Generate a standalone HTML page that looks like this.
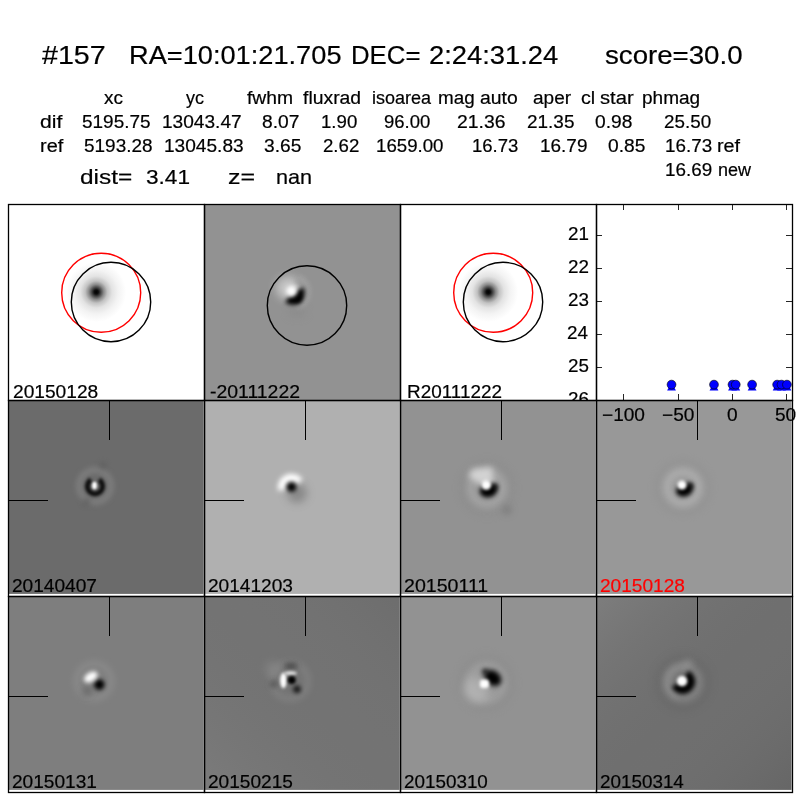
<!DOCTYPE html>
<html><head><meta charset="utf-8"><title>candidate 157</title>
<style>
html,body{margin:0;padding:0;background:#fff;}
body{width:800px;height:800px;position:relative;overflow:hidden;font-family:"Liberation Sans",sans-serif;}
#fig{position:absolute;left:0;top:0;width:800px;height:800px;}
.t{position:absolute;white-space:pre;line-height:normal;transform-origin:0 0;color:#000;will-change:transform;-webkit-text-stroke:0.2px currentColor;}
#clip26{position:absolute;left:540px;top:380px;width:60px;height:20px;overflow:hidden;}
</style></head><body>

<svg id="fig" width="800" height="800" viewBox="0 0 800 800">
<defs>
<filter id="b1" x="-100%" y="-100%" width="300%" height="300%"><feGaussianBlur stdDeviation="1"/></filter>
<filter id="b12" x="-100%" y="-100%" width="300%" height="300%"><feGaussianBlur stdDeviation="1.2"/></filter>
<filter id="b15" x="-100%" y="-100%" width="300%" height="300%"><feGaussianBlur stdDeviation="1.5"/></filter>
<filter id="b18" x="-100%" y="-100%" width="300%" height="300%"><feGaussianBlur stdDeviation="1.8"/></filter>
<filter id="b2" x="-100%" y="-100%" width="300%" height="300%"><feGaussianBlur stdDeviation="2"/></filter>
<filter id="b25" x="-100%" y="-100%" width="300%" height="300%"><feGaussianBlur stdDeviation="2.5"/></filter>
<filter id="b3" x="-100%" y="-100%" width="300%" height="300%"><feGaussianBlur stdDeviation="3"/></filter>
<filter id="b4" x="-100%" y="-100%" width="300%" height="300%"><feGaussianBlur stdDeviation="4"/></filter>
<filter id="b5" x="-100%" y="-100%" width="300%" height="300%"><feGaussianBlur stdDeviation="5"/></filter>
<radialGradient id="star" cx="0.5" cy="0.5" r="0.5"><stop offset="0" stop-color="#000"/><stop offset="0.07" stop-color="#0e0e0e"/><stop offset="0.15" stop-color="#464646"/><stop offset="0.25" stop-color="#8a8a8a"/><stop offset="0.37" stop-color="#c2c2c2"/><stop offset="0.53" stop-color="#e3e3e3"/><stop offset="0.73" stop-color="#f3f3f3"/><stop offset="1" stop-color="#fff"/></radialGradient>
<clipPath id="c00"><rect x="8" y="204" width="196" height="196"/></clipPath>
<clipPath id="c01"><rect x="204" y="204" width="196" height="196"/></clipPath>
<clipPath id="c02"><rect x="400" y="204" width="196" height="196"/></clipPath>
<clipPath id="c03"><rect x="596" y="204" width="196" height="196"/></clipPath>
<clipPath id="c10"><rect x="8" y="400" width="196" height="196"/></clipPath>
<clipPath id="c11"><rect x="204" y="400" width="196" height="196"/></clipPath>
<clipPath id="c12"><rect x="400" y="400" width="196" height="196"/></clipPath>
<clipPath id="c13"><rect x="596" y="400" width="196" height="196"/></clipPath>
<clipPath id="c20"><rect x="8" y="596" width="196" height="196"/></clipPath>
<clipPath id="c21"><rect x="204" y="596" width="196" height="196"/></clipPath>
<clipPath id="c22"><rect x="400" y="596" width="196" height="196"/></clipPath>
<clipPath id="c23"><rect x="596" y="596" width="196" height="196"/></clipPath>
<linearGradient id="gA" x1="0" y1="0" x2="1" y2="1"><stop offset="0" stop-color="#fff" stop-opacity=".1"/><stop offset=".5" stop-color="#888" stop-opacity="0"/><stop offset="1" stop-color="#000" stop-opacity=".08"/></linearGradient>
<linearGradient id="gB" x1="1" y1="0" x2="0" y2="1"><stop offset="0" stop-color="#000" stop-opacity=".05"/><stop offset=".5" stop-color="#888" stop-opacity="0"/><stop offset="1" stop-color="#fff" stop-opacity=".06"/></linearGradient>
</defs>
<rect x="204" y="204" width="196" height="196" fill="#929292"/>
<rect x="8.5" y="400.5" width="195" height="193.4" fill="#6b6b6b"/>
<rect x="204.5" y="400.5" width="195" height="193.4" fill="#b0b0b0"/>
<rect x="400.5" y="400.5" width="195" height="193.4" fill="#929292"/>
<rect x="596.5" y="400.5" width="195" height="193.4" fill="#989898"/>
<rect x="8.5" y="596.5" width="195" height="193.4" fill="#7e7e7e"/>
<rect x="204.5" y="596.5" width="195" height="193.4" fill="#737373"/>
<rect x="400.5" y="596.5" width="195" height="193.4" fill="#929292"/>
<rect x="596.5" y="596.5" width="195" height="193.4" fill="#6f6f6f"/>
<rect x="596.5" y="596.5" width="195" height="193.4" fill="url(#gA)"/>
<rect x="204.5" y="596.5" width="195" height="193.4" fill="url(#gB)"/>
<g clip-path="url(#c00)"><circle cx="96.25" cy="292" r="30" fill="url(#star)"/><circle cx="101.2" cy="292.75" r="39.5" fill="none" stroke="#f00" stroke-width="1.4"/><circle cx="111" cy="302" r="39.7" fill="none" stroke="#000" stroke-width="1.4"/></g>
<g clip-path="url(#c02)"><circle cx="488.25" cy="292" r="30" fill="url(#star)"/><circle cx="493.2" cy="292.75" r="39.5" fill="none" stroke="#f00" stroke-width="1.4"/><circle cx="503" cy="302" r="39.7" fill="none" stroke="#000" stroke-width="1.4"/></g>
<g clip-path="url(#c01)"><ellipse cx="288.5" cy="288" rx="12.5" ry="11.5" fill="#dcdcdc" opacity=".7" filter="url(#b4)"/><path d="M299.06 277.50A16 16 0 0 1 296.44 307.45" fill="none" stroke="#a8a8a8" stroke-width="5" opacity=".6" filter="url(#b25)"/><path d="M295.28 280.89A11.5 11.5 0 0 1 301.11 299.39" fill="none" stroke="#7c7c7c" stroke-width="3" opacity=".5" filter="url(#b2)"/><ellipse cx="297" cy="312" rx="9" ry="5" fill="#848484" opacity=".5" filter="url(#b4)"/><path d="M299.57 289.40A7.8 7.8 0 0 1 287.70 298.85" fill="none" stroke="#000" stroke-width="8.5" filter="url(#b2)"/><circle cx="297.5" cy="298.5" r="4.2" fill="#000" filter="url(#b2)"/><circle cx="291.5" cy="291" r="5.2" fill="#fff" filter="url(#b2)"/><circle cx="307" cy="305.5" r="39.7" fill="none" stroke="#000" stroke-width="1.4"/></g>
<g clip-path="url(#c10)"><circle cx="95" cy="486" r="16" fill="none" stroke="#8c8c8c" stroke-width="6" opacity=".55" filter="url(#b25)"/><circle cx="86.5" cy="502" r="4" fill="#555" opacity=".5" filter="url(#b25)"/><circle cx="103" cy="465.5" r="4" fill="#585858" opacity=".45" filter="url(#b25)"/><path d="M99.03 479.85A7.6 7.6 0 1 1 90.97 479.85" fill="none" stroke="#000" stroke-width="4.8" opacity=".88" filter="url(#b18)"/><ellipse cx="94.5" cy="485.5" rx="2.4" ry="3.8" fill="#fff" filter="url(#b12)"/></g>
<g clip-path="url(#c11)"><circle cx="297" cy="493" r="10" fill="#606060" opacity=".5" filter="url(#b4)"/><path d="M282.03 490.04A9.8 9.8 0 0 1 299.53 481.88" fill="none" stroke="#fff" stroke-width="8" filter="url(#b25)"/><circle cx="291.5" cy="487" r="4.8" fill="#000" filter="url(#b2)"/></g>
<g clip-path="url(#c12)"><circle cx="487" cy="488" r="16.5" fill="none" stroke="#b0b0b0" stroke-width="9" opacity=".55" filter="url(#b3)"/><circle cx="487" cy="488" r="25" fill="none" stroke="#868686" stroke-width="5" opacity=".45" filter="url(#b4)"/><polygon points="482,486 468,476 472,469 492,467 494,484" fill="#e0e0e0" opacity=".8" filter="url(#b3)"/><circle cx="507" cy="510" r="5" fill="#707070" opacity=".5" filter="url(#b3)"/><ellipse cx="488.5" cy="490.5" rx="8.8" ry="6.8" transform="rotate(-15 488.3 490.3)" fill="#000" filter="url(#b2)"/><circle cx="495" cy="486.5" r="3" fill="#000" opacity=".8" filter="url(#b2)"/><circle cx="486.3" cy="485" r="4.8" fill="#fff" filter="url(#b18)"/></g>
<g clip-path="url(#c13)"><circle cx="683" cy="487.5" r="16" fill="none" stroke="#b8b8b8" stroke-width="9" opacity=".6" filter="url(#b3)"/><circle cx="683" cy="487.5" r="25" fill="none" stroke="#888" stroke-width="5" opacity=".4" filter="url(#b4)"/><ellipse cx="684.5" cy="490" rx="8.6" ry="6.5" transform="rotate(-20 684.3 489.8)" fill="#000" filter="url(#b2)"/><circle cx="690.5" cy="485.5" r="3" fill="#000" opacity=".8" filter="url(#b2)"/><circle cx="682" cy="485" r="4.6" fill="#fff" filter="url(#b18)"/></g>
<g clip-path="url(#c20)"><circle cx="94" cy="681" r="17.5" fill="none" stroke="#969696" stroke-width="6" opacity=".5" filter="url(#b3)"/><circle cx="87" cy="691.5" r="4.5" fill="#555" opacity=".55" filter="url(#b3)"/><circle cx="99.3" cy="684.5" r="5.2" fill="#000" filter="url(#b2)"/><ellipse cx="90.8" cy="677" rx="7.5" ry="4.6" transform="rotate(-32 90.8 677)" fill="#fff" filter="url(#b2)"/></g>
<g clip-path="url(#c21)"><circle cx="290" cy="681" r="18" fill="none" stroke="#8c8c8c" stroke-width="6" opacity=".5" filter="url(#b3)"/><circle cx="273" cy="669" r="8" fill="#909090" opacity=".5" filter="url(#b4)"/><ellipse cx="291" cy="666" rx="7" ry="3.5" fill="#3c3c3c" opacity=".7" filter="url(#b25)"/><circle cx="273.5" cy="684" r="4" fill="#484848" opacity=".6" filter="url(#b25)"/><ellipse cx="283.4" cy="680.5" rx="3.3" ry="7.8" fill="#fff" filter="url(#b18)"/><ellipse cx="290.5" cy="673.2" rx="6.5" ry="2.2" fill="#e8e8e8" opacity=".9" filter="url(#b15)"/><circle cx="291.7" cy="680" r="4" fill="#000" filter="url(#b18)"/><circle cx="297" cy="689.3" r="3.8" fill="#000" opacity=".8" filter="url(#b2)"/></g>
<g clip-path="url(#c22)"><circle cx="486" cy="683" r="17" fill="none" stroke="#ababab" stroke-width="8" opacity=".5" filter="url(#b3)"/><circle cx="486" cy="683" r="26" fill="none" stroke="#868686" stroke-width="5" opacity=".4" filter="url(#b4)"/><circle cx="477" cy="689.5" r="13" fill="#c0c0c0" opacity=".6" filter="url(#b4)"/><ellipse cx="492.8" cy="677.8" rx="9.2" ry="7" transform="rotate(40 492.5 678)" fill="#000" filter="url(#b25)"/><circle cx="485" cy="671.5" r="3" fill="#000" opacity=".7" filter="url(#b2)"/><rect x="480" y="679.5" width="9" height="8.5" rx="3" fill="#fff" filter="url(#b18)"/></g>
<g clip-path="url(#c23)"><circle cx="683" cy="682.5" r="16.5" fill="none" stroke="#909090" stroke-width="8" opacity=".55" filter="url(#b3)"/><circle cx="683" cy="682.5" r="25" fill="none" stroke="#5c5c5c" stroke-width="5" opacity=".4" filter="url(#b4)"/><path d="M677.87 696.10A15 15 0 0 1 688.13 667.90" fill="none" stroke="#9a9a9a" stroke-width="6" opacity=".5" filter="url(#b3)"/><circle cx="688" cy="664" r="5" fill="#999" opacity=".5" filter="url(#b3)"/><path d="M686.55 674.26A8.2 8.2 0 1 1 675.27 684.97" fill="none" stroke="#000" stroke-width="8" filter="url(#b2)"/><circle cx="682" cy="681" r="5" fill="#fff" filter="url(#b18)"/></g>
<path d="M109.5 400v40M8 500.5h40" stroke="#000" stroke-width="1" fill="none"/>
<path d="M305.5 400v40M204 500.5h40" stroke="#000" stroke-width="1" fill="none"/>
<path d="M501.5 400v40M400 500.5h40" stroke="#000" stroke-width="1" fill="none"/>
<path d="M697.5 400v40M596 500.5h40" stroke="#000" stroke-width="1" fill="none"/>
<path d="M109.5 596v40M8 696.5h40" stroke="#000" stroke-width="1" fill="none"/>
<path d="M305.5 596v40M204 696.5h40" stroke="#000" stroke-width="1" fill="none"/>
<path d="M501.5 596v40M400 696.5h40" stroke="#000" stroke-width="1" fill="none"/>
<path d="M697.5 596v40M596 696.5h40" stroke="#000" stroke-width="1" fill="none"/>
<g clip-path="url(#c03)"><path d="M667.12 390.6L675.92 390.6L671.52 382Z" fill="#00f"/><path d="M709.59 390.6L718.39 390.6L713.99 382Z" fill="#00f"/><path d="M728.10 390.6L736.90 390.6L732.50 382Z" fill="#00f"/><path d="M731.37 390.6L740.17 390.6L735.77 382Z" fill="#00f"/><path d="M747.70 390.6L756.50 390.6L752.10 382Z" fill="#00f"/><path d="M772.74 390.6L781.54 390.6L777.14 382Z" fill="#00f"/><path d="M777.10 390.6L785.90 390.6L781.50 382Z" fill="#00f"/><path d="M782.55 390.6L791.35 390.6L786.95 382Z" fill="#00f"/><circle cx="671.52" cy="384.6" r="4.4" fill="#00f" stroke="#000" stroke-width="0.6"/><circle cx="713.99" cy="384.6" r="4.4" fill="#00f" stroke="#000" stroke-width="0.6"/><circle cx="732.50" cy="384.6" r="4.4" fill="#00f" stroke="#000" stroke-width="0.6"/><circle cx="735.77" cy="384.6" r="4.4" fill="#00f" stroke="#000" stroke-width="0.6"/><circle cx="752.10" cy="384.6" r="4.4" fill="#00f" stroke="#000" stroke-width="0.6"/><circle cx="777.14" cy="384.6" r="4.4" fill="#00f" stroke="#000" stroke-width="0.6"/><circle cx="781.50" cy="384.6" r="4.4" fill="#00f" stroke="#000" stroke-width="0.6"/><circle cx="786.95" cy="384.6" r="4.4" fill="#00f" stroke="#000" stroke-width="0.6"/></g>
<path d="M596 235.5h6M792 235.5h-6M596 268.5h6M792 268.5h-6M596 301.5h6M792 301.5h-6M596 334.5h6M792 334.5h-6M596 367.5h6M792 367.5h-6M623.5 204v6M623.5 400v-6M678.5 204v6M678.5 400v-6M732.5 204v6M732.5 400v-6M786.5 204v6M786.5 400v-6" stroke="#000" stroke-width="0.85" fill="none"/>
<rect x="8.5" y="204.5" width="196" height="196" fill="none" stroke="#000" stroke-width="1.3"/>
<rect x="204.5" y="204.5" width="196" height="196" fill="none" stroke="#000" stroke-width="1.3"/>
<rect x="400.5" y="204.5" width="196" height="196" fill="none" stroke="#000" stroke-width="1.3"/>
<rect x="596.5" y="204.5" width="196" height="196" fill="none" stroke="#000" stroke-width="1.3"/>
<rect x="8.5" y="400.5" width="196" height="196" fill="none" stroke="#000" stroke-width="1.3"/>
<rect x="204.5" y="400.5" width="196" height="196" fill="none" stroke="#000" stroke-width="1.3"/>
<rect x="400.5" y="400.5" width="196" height="196" fill="none" stroke="#000" stroke-width="1.3"/>
<rect x="596.5" y="400.5" width="196" height="196" fill="none" stroke="#000" stroke-width="1.3"/>
<rect x="8.5" y="596.5" width="196" height="196" fill="none" stroke="#000" stroke-width="1.3"/>
<rect x="204.5" y="596.5" width="196" height="196" fill="none" stroke="#000" stroke-width="1.3"/>
<rect x="400.5" y="596.5" width="196" height="196" fill="none" stroke="#000" stroke-width="1.3"/>
<rect x="596.5" y="596.5" width="196" height="196" fill="none" stroke="#000" stroke-width="1.3"/>
</svg>
<span class="t" style="left:42.00px;top:41.00px;font-size:25px;transform:scaleX(1.1455)">#157</span>
<span class="t" style="left:128.82px;top:41.00px;font-size:25px;transform:scaleX(1.0881)">RA=10:01:21.705</span>
<span class="t" style="left:350.94px;top:41.00px;font-size:25px;transform:scaleX(1.0312)">DEC=</span>
<span class="t" style="left:428.91px;top:41.00px;font-size:25px;transform:scaleX(1.0940)">2:24:31.24</span>
<span class="t" style="left:604.89px;top:41.00px;font-size:25px;transform:scaleX(1.1057)">score=30.0</span>
<span class="t" style="left:103.50px;top:88.00px;font-size:18px;transform:scaleX(1.0556)">xc</span>
<span class="t" style="left:185.50px;top:88.00px;font-size:18px;transform:scaleX(1.0000)">yc</span>
<span class="t" style="left:246.50px;top:88.00px;font-size:18px;transform:scaleX(1.0714)">fwhm</span>
<span class="t" style="left:302.50px;top:88.00px;font-size:18px;transform:scaleX(1.0755)">fluxrad</span>
<span class="t" style="left:371.50px;top:88.00px;font-size:18px;transform:scaleX(1.0000)">isoarea</span>
<span class="t" style="left:438.45px;top:88.00px;font-size:18px;transform:scaleX(1.0455)">mag</span>
<span class="t" style="left:480.42px;top:88.00px;font-size:18px;transform:scaleX(1.0758)">auto</span>
<span class="t" style="left:532.94px;top:88.00px;font-size:18px;transform:scaleX(1.0571)">aper</span>
<span class="t" style="left:581.41px;top:88.00px;font-size:18px;transform:scaleX(1.0909)">cl</span>
<span class="t" style="left:599.88px;top:88.00px;font-size:18px;transform:scaleX(1.1207)">star</span>
<span class="t" style="left:642.44px;top:88.00px;font-size:18px;transform:scaleX(1.0566)">phmag</span>
<span class="t" style="left:39.83px;top:112.00px;font-size:18px;transform:scaleX(1.1733)">dif</span>
<span class="t" style="left:82.20px;top:112.00px;font-size:18px;transform:scaleX(1.0538)">5195.75</span>
<span class="t" style="left:161.66px;top:112.00px;font-size:18px;transform:scaleX(1.0610)">13043.47</span>
<span class="t" style="left:262.26px;top:112.00px;font-size:18px;transform:scaleX(1.0668)">8.07</span>
<span class="t" style="left:320.64px;top:112.00px;font-size:18px;transform:scaleX(1.0354)">1.90</span>
<span class="t" style="left:384.02px;top:112.00px;font-size:18px;transform:scaleX(1.0287)">96.00</span>
<span class="t" style="left:457.41px;top:112.00px;font-size:18px;transform:scaleX(1.0760)">21.36</span>
<span class="t" style="left:526.85px;top:112.00px;font-size:18px;transform:scaleX(1.0527)">21.35</span>
<span class="t" style="left:595.25px;top:112.00px;font-size:18px;transform:scaleX(1.0668)">0.98</span>
<span class="t" style="left:39.89px;top:136.00px;font-size:18px;transform:scaleX(1.1063)">ref</span>
<span class="t" style="left:84.21px;top:136.00px;font-size:18px;transform:scaleX(1.0538)">5193.28</span>
<span class="t" style="left:163.68px;top:136.00px;font-size:18px;transform:scaleX(1.0610)">13045.83</span>
<span class="t" style="left:264.27px;top:136.00px;font-size:18px;transform:scaleX(1.0668)">3.65</span>
<span class="t" style="left:322.65px;top:136.00px;font-size:18px;transform:scaleX(1.0363)">2.62</span>
<span class="t" style="left:375.97px;top:136.00px;font-size:18px;transform:scaleX(1.0373)">1659.00</span>
<span class="t" style="left:471.54px;top:136.00px;font-size:18px;transform:scaleX(1.0293)">16.73</span>
<span class="t" style="left:539.93px;top:136.00px;font-size:18px;transform:scaleX(1.0527)">16.79</span>
<span class="t" style="left:608.32px;top:136.00px;font-size:18px;transform:scaleX(1.0668)">0.85</span>
<span class="t" style="left:663.95px;top:112.00px;font-size:18px;transform:scaleX(1.0455)">25.50</span>
<span class="t" style="left:664.95px;top:136.00px;font-size:18px;transform:scaleX(1.0465)">16.73</span>
<span class="t" style="left:717.40px;top:136.00px;font-size:18px;transform:scaleX(1.1000)">ref</span>
<span class="t" style="left:664.95px;top:160.00px;font-size:18px;transform:scaleX(1.0465)">16.69</span>
<span class="t" style="left:717.50px;top:160.00px;font-size:18px;transform:scaleX(1.0000)">new</span>
<span class="t" style="left:79.84px;top:165.00px;font-size:21px;transform:scaleX(1.1628)">dist=</span>
<span class="t" style="left:145.92px;top:165.00px;font-size:21px;transform:scaleX(1.0769)">3.41</span>
<span class="t" style="left:227.81px;top:165.00px;font-size:21px;transform:scaleX(1.1905)">z=</span>
<span class="t" style="left:275.97px;top:165.00px;font-size:21px;transform:scaleX(1.0303)">nan</span>
<span class="t" style="left:13.44px;top:382.00px;font-size:18px;transform:scaleX(1.0641)">20150128</span>
<span class="t" style="left:210.42px;top:382.00px;font-size:18px;transform:scaleX(1.0793)">-20111222</span>
<span class="t" style="left:406.95px;top:382.00px;font-size:18px;transform:scaleX(1.0506)">R20111222</span>
<span class="t" style="left:11.94px;top:576.00px;font-size:18px;transform:scaleX(1.0603)">20140407</span>
<span class="t" style="left:207.94px;top:576.00px;font-size:18px;transform:scaleX(1.0603)">20141203</span>
<span class="t" style="left:403.91px;top:576.00px;font-size:18px;transform:scaleX(1.0882)">20150111</span>
<span class="t" style="left:599.94px;top:576.00px;font-size:18px;color:#f00;transform:scaleX(1.0603)">20150128</span>
<span class="t" style="left:11.94px;top:772.00px;font-size:18px;transform:scaleX(1.0603)">20150131</span>
<span class="t" style="left:207.94px;top:772.00px;font-size:18px;transform:scaleX(1.0603)">20150215</span>
<span class="t" style="left:403.95px;top:772.00px;font-size:18px;transform:scaleX(1.0468)">20150310</span>
<span class="t" style="left:599.95px;top:772.00px;font-size:18px;transform:scaleX(1.0468)">20150314</span>
<span class="t" style="left:568.45px;top:224.30px;font-size:18px;transform:scaleX(1.0450)">21</span>
<span class="t" style="left:568.45px;top:257.30px;font-size:18px;transform:scaleX(1.0450)">22</span>
<span class="t" style="left:568.45px;top:290.30px;font-size:18px;transform:scaleX(1.0450)">23</span>
<span class="t" style="left:567.40px;top:323.30px;font-size:18px;transform:scaleX(1.0450)">24</span>
<span class="t" style="left:568.45px;top:356.30px;font-size:18px;transform:scaleX(1.0450)">25</span>
<span class="t" style="left:601.97px;top:405.00px;font-size:18px;transform:scaleX(1.0600)">−100</span>
<span class="t" style="left:661.87px;top:405.00px;font-size:18px;transform:scaleX(1.0600)">−50</span>
<span class="t" style="left:727.17px;top:405.00px;font-size:18px;transform:scaleX(1.0600)">0</span>
<span class="t" style="left:774.87px;top:405.00px;font-size:18px;transform:scaleX(1.0600)">50</span>
<div id="clip26"><span class="t" style="left:28.45px;top:8.5px;font-size:18px;transform:scaleX(1.0450)">26</span></div>
</body></html>
